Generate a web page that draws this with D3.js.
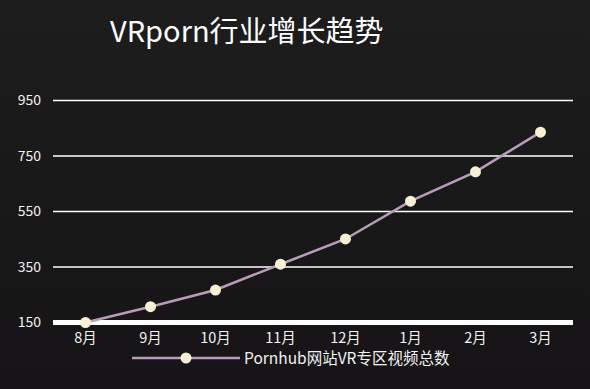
<!DOCTYPE html>
<html>
<head>
<meta charset="utf-8">
<script src="https://cdn.jsdelivr.net/npm/d3@7"></script>
<style>
  html, body { margin: 0; padding: 0; background: #1b1a1b; }
  svg text { font-family: "Noto Sans CJK SC", "Noto Sans", sans-serif; fill: #f2f2f2; }
</style>
</head>
<body>
<script>
//chart data
var months = ["8月", "9月", "10月", "11月", "12月", "1月", "2月", "3月"];
var videoCounts = [150, 207, 267, 360, 451, 587, 693, 836];
var yTicks = [150, 350, 550, 750, 950];
var seriesName = "Pornhub网站VR专区视频总数";
var title = "VRporn行业增长趋势";

var width = 590, height = 389;

var svg = d3.select("body").append("svg")
  .attr("width", width)
  .attr("height", height);

//background gradient, a bit darker at the bottom
var defs = svg.append("defs");
var grad = defs.append("linearGradient")
  .attr("id", "bg")
  .attr("x1", 0).attr("y1", 0).attr("x2", 0).attr("y2", 1);
grad.append("stop").attr("offset", "0%").attr("stop-color", "#1d1d1d");
grad.append("stop").attr("offset", "100%").attr("stop-color", "#161416");
svg.append("rect").attr("width", width).attr("height", height).attr("fill", "url(#bg)");

//scales
var x = d3.scaleBand()
  .domain(months)
  .range([53, 573]);

var y = d3.scaleLinear()
  .domain([150, 950])
  .range([322.5, 100.5]);

//title
svg.append("text")
  .attr("x", 110)
  .attr("y", 42)
  .style("font-size", "29px")
  .style("fill", "#ffffff")
  .text(title);

//gridlines
svg.append("g").selectAll("line")
  .data(yTicks)
  .enter()
  .append("line")
  .attr("x1", x.range()[0])
  .attr("x2", x.range()[1])
  .attr("y1", function(d){ return y(d); })
  .attr("y2", function(d){ return y(d); })
  .attr("stroke", "#ffffff")
  .attr("stroke-width", function(d){ return d === yTicks[0] ? 5 : 1.5; });

//y axis labels
var yAxis = d3.axisLeft(y)
  .tickValues(yTicks)
  .tickSize(0)
  .tickPadding(12);
var yG = svg.append("g")
  .attr("transform", "translate(53,0)")
  .call(yAxis);
yG.select(".domain").remove();
yG.selectAll("text")
  .style("font-size", "14px")
  .attr("fill", "#f2f2f2")
  .attr("font-family", null);

//x axis labels
var xAxis = d3.axisBottom(x)
  .tickSize(0)
  .tickPadding(8);
var xG = svg.append("g")
  .attr("transform", "translate(0,325)")
  .call(xAxis);
xG.select(".domain").remove();
xG.selectAll("text")
  .style("font-size", "14.5px")
  .attr("fill", "#f2f2f2")
  .attr("font-family", null);

//line
var line = d3.line()
  .x(function(d, i){ return x(months[i]) + x.bandwidth() / 2; })
  .y(function(d){ return y(d); });

svg.append("path")
  .datum(videoCounts)
  .attr("d", line)
  .attr("fill", "none")
  .attr("stroke", "#b89db8")
  .attr("stroke-width", 2.5);

svg.append("g").selectAll("circle")
  .data(videoCounts)
  .enter()
  .append("circle")
  .attr("cx", function(d, i){ return x(months[i]) + x.bandwidth() / 2; })
  .attr("cy", function(d){ return y(d); })
  .attr("r", 5.5)
  .attr("fill", "#f6f1d3");

//legend
var legend = svg.append("g").attr("transform", "translate(132,358)");
legend.append("line")
  .attr("x1", 0).attr("x2", 108)
  .attr("y1", 0).attr("y2", 0)
  .attr("stroke", "#b89db8")
  .attr("stroke-width", 2.5);
legend.append("circle")
  .attr("cx", 54).attr("cy", 0).attr("r", 5.5)
  .attr("fill", "#f6f1d3");
legend.append("text")
  .attr("x", 112)
  .attr("y", 0)
  .attr("dy", "0.38em")
  .style("font-size", "15.5px")
  .text(seriesName);
</script>
</body>
</html>
